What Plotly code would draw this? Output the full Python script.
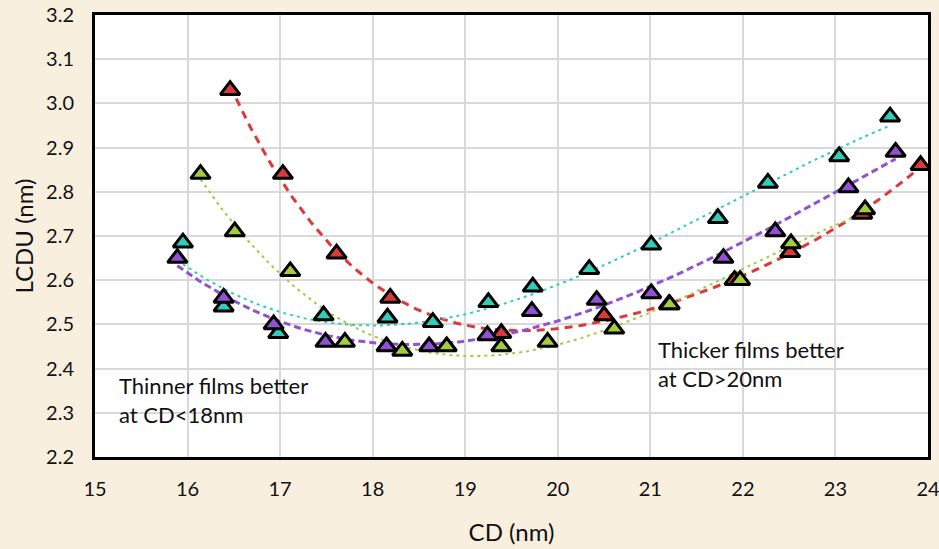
import numpy as np
import plotly.graph_objects as go

# ---- data ----
red_x = [16.46, 17.03, 17.61, 18.19, 19.39, 20.50, 21.20, 21.91, 22.51, 23.29, 23.92]
red_y = [3.03, 2.84, 2.66, 2.56, 2.48, 2.52, 2.545, 2.60, 2.663, 2.75, 2.86]

green_x = [16.14, 16.51, 17.11, 17.70, 18.32, 18.80, 19.39, 19.89, 20.61, 21.21, 21.97, 22.52, 23.32]
green_y = [2.84, 2.71, 2.62, 2.46, 2.44, 2.45, 2.45, 2.46, 2.49, 2.545, 2.60, 2.683, 2.76]

teal_x = [15.95, 16.39, 16.98, 17.47, 18.16, 18.65, 19.25, 19.73, 20.34, 21.01, 21.73, 22.27, 23.04, 23.59]
teal_y = [2.685, 2.54, 2.48, 2.52, 2.515, 2.505, 2.55, 2.585, 2.625, 2.68, 2.74, 2.82, 2.88, 2.97]

purple_x = [15.89, 16.39, 16.93, 17.49, 18.15, 18.61, 19.24, 19.72, 20.42, 21.01, 21.79, 22.35, 23.14, 23.65]
purple_y = [2.65, 2.56, 2.50, 2.46, 2.45, 2.45, 2.475, 2.53, 2.555, 2.57, 2.65, 2.71, 2.81, 2.89]

x_ticks = [15, 16, 17, 18, 19, 20, 21, 22, 23, 24]
y_ticks = [2.2, 2.3, 2.4, 2.5, 2.6, 2.7, 2.8, 2.9, 3.0, 3.1, 3.2]

series = [
    ("red", red_x, red_y, "#dc3a3a", dict(width=3, dash="8px,6px"), 4),
    ("green", green_x, green_y, "#a3cc3f", dict(width=2, dash="3px,4px"), 3),
    ("teal", teal_x, teal_y, "#30cdb8", dict(width=2, dash="3px,4px"), 3),
    ("purple", purple_x, purple_y, "#9250d2", dict(width=3, dash="7px,4px"), 3),
]

FONT = "Lato"
fig = go.Figure()

# trendlines (polynomial fit of each series)
for name, xs, ys, col, ls, deg in series:
    c = np.polyfit(xs, ys, deg)
    xf = np.linspace(min(xs), max(xs), 200)
    fig.add_trace(go.Scatter(x=xf, y=np.polyval(c, xf), mode="lines",
                             line=dict(color=col, **ls), hoverinfo="skip",
                             showlegend=False))

# markers
for name, xs, ys, col, ls, deg in series:
    fig.add_trace(go.Scatter(x=xs, y=ys, mode="markers", name=name,
                             marker=dict(symbol="triangle-up", size=17, color=col,
                                         line=dict(color="black", width=3)),
                             showlegend=False))

fig.add_annotation(x=15.24, y=2.33, xref="x", yref="y", xanchor="left", yanchor="middle",
                   text="Thinner films better<br>at CD<18nm", showarrow=False, align="left",
                   font=dict(family=FONT, size=22, color="#111111"))
fig.add_annotation(x=21.06, y=2.41, xref="x", yref="y", xanchor="left", yanchor="middle",
                   text="Thicker films better<br>at CD>20nm", showarrow=False, align="left",
                   font=dict(family=FONT, size=22, color="#111111"))

fig.update_layout(
    width=939, height=549, autosize=False,
    margin=dict(l=95, r=11, t=15, b=92, pad=0),
    paper_bgcolor="#f9efdf",
    plot_bgcolor="white",
    font=dict(family=FONT, size=20, color="#111111"),
    xaxis=dict(range=[15, 24], tickvals=x_ticks, ticktext=[str(v) for v in x_ticks],
               automargin=False, ticklabeloverflow="allow",
               showgrid=True, gridcolor="#d9d9d9", gridwidth=1.5,
               showline=True, linecolor="black", linewidth=3, mirror=True,
               zeroline=False, ticks="outside", ticklen=12, tickcolor="rgba(0,0,0,0)",
               title=dict(text="CD (nm)", font=dict(size=24), standoff=26)),
    yaxis=dict(range=[2.2, 3.2], tickvals=y_ticks, ticktext=[f"{v:.1f}" for v in y_ticks],
               automargin=False, ticklabeloverflow="allow",
               showgrid=True, gridcolor="#d9d9d9", gridwidth=1.5,
               showline=True, linecolor="black", linewidth=3, mirror=True,
               zeroline=False, ticks="outside", ticklen=14, tickcolor="rgba(0,0,0,0)",
               title=dict(text="LCDU (nm)", font=dict(size=24), standoff=6)),
)

fig.write_html("out.html", config={"displayModeBar": False},
               post_script="document.body.style.margin='0';")
